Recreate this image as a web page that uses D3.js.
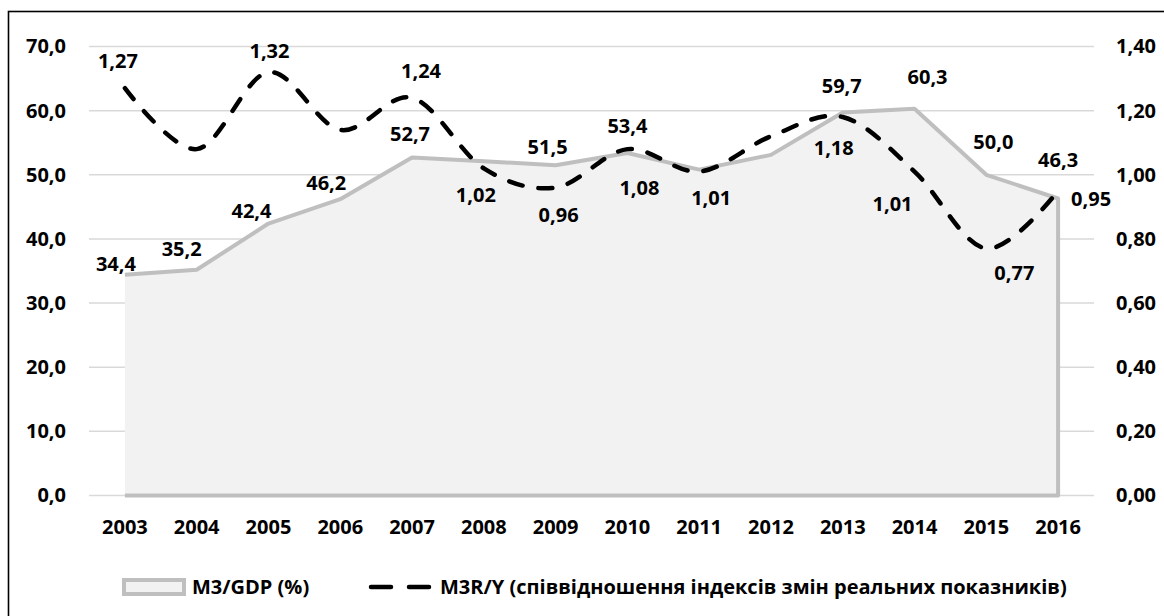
<!DOCTYPE html>
<html>
<head>
<meta charset="utf-8">
<script src="https://cdn.jsdelivr.net/npm/d3@7"></script>
<style>
  html, body { margin: 0; padding: 0; background: #fff; }
  svg { display: block; }
  text { font-family: "Open Sans", "Noto Sans", sans-serif; font-weight: 700; fill: #000; }
</style>
</head>
<body>
<svg id="chart" width="1164" height="616"></svg>
<script>
// ---- data ----
const years = ["2003","2004","2005","2006","2007","2008","2009","2010","2011","2012","2013","2014","2015","2016"];
const m3gdp = [34.4, 35.2, 42.4, 46.2, 52.7, 52.1, 51.5, 53.4, 50.8, 53.1, 59.7, 60.3, 50.0, 46.3];
const m3gdpLabels = ["34,4","35,2","42,4","46,2","52,7",null,"51,5","53,4",null,null,"59,7","60,3","50,0","46,3"];
const m3rY = [1.27, 1.08, 1.32, 1.14, 1.24, 1.02, 0.96, 1.08, 1.01, 1.12, 1.18, 1.01, 0.77, 0.95];
const m3rYLabels = ["1,27",null,"1,32",null,"1,24","1,02","0,96","1,08","1,01",null,"1,18","1,01","0,77","0,95"];
const leftTicks = [0, 10, 20, 30, 40, 50, 60, 70];
const rightTicks = [0, 0.2, 0.4, 0.6, 0.8, 1.0, 1.2, 1.4];
const legendNames = ["M3/GDP (%)", "M3R/Y (співвідношення індексів змін реальних показників)"];

// ---- label nudges (layout only) ----
const areaLabelNudge = [[-9,-11],[-15,-21],[-17,-13],[-14,-16],[-2,-24],[0,0],[-8,-18],[0,-27],[0,0],[0,0],[-1,-27],[13,-32],[7,-33],[0,-39]];
const lineLabelNudge = [[-7,-27],[0,0],[1,-21],[0,0],[9,-27],[-8,26],[3,27],[12,39],[12,26],[0,0],[-9,31],[-22,32],[28,24],[33,8]];

const svg = d3.select("#chart");
const fmtL = d => d3.format(".1f")(d).replace(".", ",");
const fmtR = d => d3.format(".2f")(d).replace(".", ",");

const x = d3.scaleBand().domain(years).range([89, 1094]);
const xc = d => x(d) + x.bandwidth() / 2;
const yL = d3.scaleLinear().domain([0, 70]).range([495.5, 46.5]);
const yR = d3.scaleLinear().domain([0, 1.4]).range([495.5, 46.5]);

// border
svg.append("rect").attr("x", 8.5).attr("y", 11.5).attr("width", 1300).attr("height", 800)
  .attr("fill", "none").attr("stroke", "#000").attr("stroke-width", 1.6);

// gridlines
svg.append("g").selectAll("line").data(leftTicks).join("line")
  .attr("x1", 89).attr("x2", 1094)
  .attr("y1", d => yL(d)).attr("y2", d => yL(d))
  .attr("stroke", "#d9d9d9").attr("stroke-width", 1.5);

// left axis
const gL = svg.append("g").attr("transform", "translate(89,0)")
  .call(d3.axisLeft(yL).tickValues(leftTicks).tickFormat(fmtL).tickSize(0).tickPadding(23));
gL.select(".domain").remove();
gL.selectAll("text").attr("font-size", 20).style("font-family", "'Open Sans', sans-serif").style("font-weight", 700).attr("fill", "#000");

// right axis
const gR = svg.append("g").attr("transform", "translate(1094,0)")
  .call(d3.axisRight(yR).tickValues(rightTicks).tickFormat(fmtR).tickSize(0).tickPadding(22));
gR.select(".domain").remove();
gR.selectAll("text").attr("font-size", 20).style("font-family", "'Open Sans', sans-serif").style("font-weight", 700).attr("fill", "#000");

// bottom axis
const gB = svg.append("g").attr("transform", "translate(0,512)")
  .call(d3.axisBottom(x).tickSize(0).tickPadding(8));
gB.select(".domain").remove();
gB.selectAll("text").attr("font-size", 20).style("font-family", "'Open Sans', sans-serif").style("font-weight", 700).attr("fill", "#000");

// area
const idx = d3.range(years.length);
const area = d3.area().x(i => xc(years[i])).y0(yL(0)).y1(i => yL(m3gdp[i]));
svg.append("path").datum(idx).attr("d", area).attr("fill", "#f2f2f2");
const outline = d3.line().x(p => p[0]).y(p => p[1]);
const pts = idx.map(i => [xc(years[i]), yL(m3gdp[i])]);
pts.push([xc(years[years.length - 1]), yL(0)]);
pts.push([xc(years[0]), yL(0)]);
svg.append("path").datum(pts).attr("d", outline).attr("fill", "none")
  .attr("stroke", "#bfbfbf").attr("stroke-width", 4).attr("stroke-linejoin", "round");

// dashed smooth line
const line = d3.line().x(i => xc(years[i])).y(i => yR(m3rY[i])).curve(d3.curveCardinal.tension(0));
svg.append("path").datum(idx).attr("d", line).attr("fill", "none")
  .attr("stroke", "#000").attr("stroke-width", 4.5).attr("stroke-linecap", "round")
  .attr("stroke-dasharray", "14,16");

// labels
svg.append("g").selectAll("text").data(idx.filter(i => m3gdpLabels[i])).join("text")
  .attr("x", i => xc(years[i]) + areaLabelNudge[i][0])
  .attr("y", i => yL(m3gdp[i]) + areaLabelNudge[i][1])
  .attr("dy", "0.36em").attr("text-anchor", "middle").attr("font-size", 20)
  .text(i => m3gdpLabels[i]);
svg.append("g").selectAll("text").data(idx.filter(i => m3rYLabels[i])).join("text")
  .attr("x", i => xc(years[i]) + lineLabelNudge[i][0])
  .attr("y", i => yR(m3rY[i]) + lineLabelNudge[i][1])
  .attr("dy", "0.36em").attr("text-anchor", "middle").attr("font-size", 20)
  .text(i => m3rYLabels[i]);

// legend
const lg = svg.append("g");
lg.append("rect").attr("x", 124).attr("y", 580).attr("width", 60).attr("height", 14)
  .attr("fill", "#f2f2f2").attr("stroke", "#bfbfbf").attr("stroke-width", 4);
lg.append("text").attr("x", 192).attr("y", 587).attr("dy", "0.36em").attr("font-size", 20).text(legendNames[0]);
lg.append("line").attr("x1", 371).attr("x2", 432).attr("y1", 587).attr("y2", 587)
  .attr("stroke", "#000").attr("stroke-width", 4.5).attr("stroke-linecap", "round")
  .attr("stroke-dasharray", "20,18");
lg.append("text").attr("x", 440).attr("y", 587).attr("dy", "0.36em").attr("font-size", 20).text(legendNames[1]);
</script>
</body>
</html>
